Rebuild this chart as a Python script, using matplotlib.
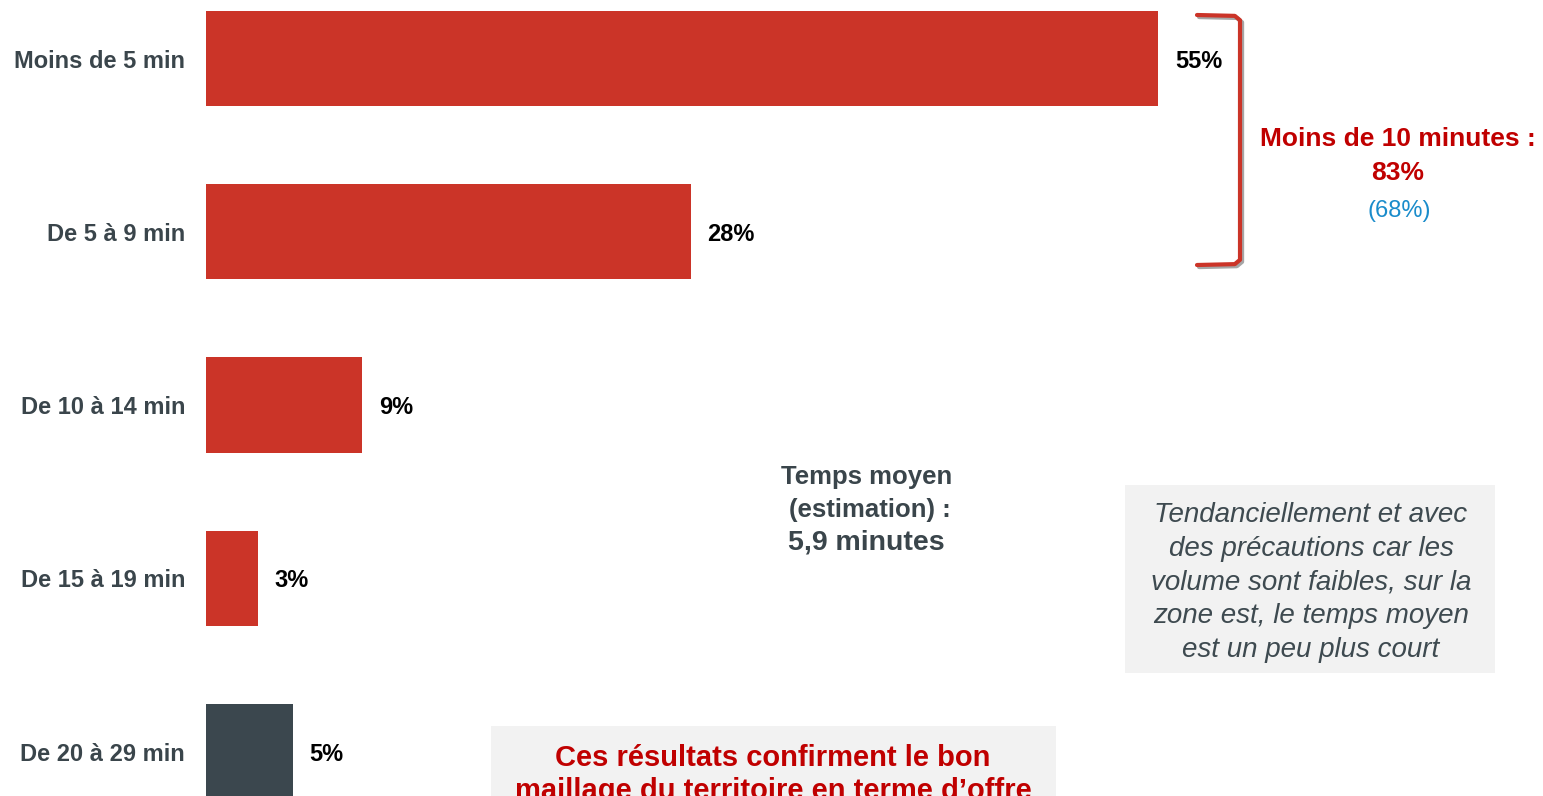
import matplotlib.pyplot as plt
import matplotlib.patheffects as pe
from matplotlib.patches import Rectangle
import numpy as np

plt.rcParams["font.family"] = ["Liberation Sans", "DejaVu Sans"]

# donnees
categories = [
    "Moins de 5 min",
    "De 5 à 9 min",
    "De 10 à 14 min",
    "De 15 à 19 min",
    "De 20 à 29 min",
]
valeurs_pct = [55, 28, 9, 3, 5]
couleurs = ["#CB3428", "#CB3428", "#CB3428", "#CB3428", "#3B474E"]

W, H = 1543, 796
GRIS_TEXTE = "#3A454B"
ROUGE_TEXTE = "#C00000"

fig = plt.figure(figsize=(W / 100, H / 100), dpi=100)

# axes: bars start at x=206 px, ~17.3 px per percent, 173.3 px per category
px_per_pct = (1158 - 206) / 55
px_per_cat = 173.3
y0_px = 58.5
ax = fig.add_axes([206 / W, 0, (W - 206) / W, 1])
ax.patch.set_visible(False)
ax.set_xlim(0, (W - 206) / px_per_pct)
ax.set_ylim((H - y0_px) / px_per_cat, -y0_px / px_per_cat)

y = np.arange(len(categories))
bars = ax.barh(y, valeurs_pct, height=0.55, color=couleurs)

for rect, v in zip(bars, valeurs_pct):
    ax.annotate(
        f"{v}%",
        (rect.get_width(), rect.get_y() + rect.get_height() / 2),
        xytext=(12.2, 0),
        textcoords="offset points",
        ha="left",
        va="center_baseline",
        fontsize=17,
        fontweight="bold",
        color="black",
    )

ax.set_yticks(y)
ax.set_yticklabels(categories, fontsize=17, fontweight="bold", color=GRIS_TEXTE)
ax.tick_params(axis="y", length=0, pad=15)
ax.set_xticks([])
for s in ax.spines.values():
    s.set_visible(False)

# accolade "moins de 10 minutes"
bx0 = (1197 - 206) / px_per_pct
bx1 = (1240 - 206) / px_per_pct
by0 = (15 - y0_px) / px_per_cat
by1 = (265 - y0_px) / px_per_cat
ax.plot(
    [bx0, bx1 - 0.3, bx1, bx1, bx1 - 0.3, bx0],
    [by0, by0 + 0.005, by0 + 0.03, by1 - 0.03, by1 - 0.005, by1],
    color="#CB3428",
    linewidth=3,
    solid_joinstyle="round",
    solid_capstyle="round",
    clip_on=False,
    path_effects=[pe.SimpleLineShadow(offset=(1.5, -1.5), alpha=0.35), pe.Normal()],
)


def fx(px):
    return px / W


def fy(px):
    return 1 - px / H


fig.text(fx(1398), fy(137), "Moins de 10 minutes :", ha="center", va="center_baseline",
         fontsize=19, fontweight="bold", color=ROUGE_TEXTE)
fig.text(fx(1398), fy(170), "83%", ha="center", va="center_baseline",
         fontsize=19, fontweight="bold", color=ROUGE_TEXTE)
fig.text(fx(1399), fy(208), "(68%)", ha="center", va="center_baseline",
         fontsize=17, color="#1A8CCB")

# temps moyen
fig.text(fx(867), fy(475), "Temps moyen", ha="center", va="center_baseline",
         fontsize=18.5, fontweight="bold", color=GRIS_TEXTE)
fig.text(fx(870), fy(507), "(estimation) :", ha="center", va="center_baseline",
         fontsize=18.5, fontweight="bold", color=GRIS_TEXTE)
fig.text(fx(866), fy(540), "5,9 minutes", ha="center", va="center_baseline",
         fontsize=20.5, fontweight="bold", color=GRIS_TEXTE)

# encadre gris a droite
fig.add_artist(Rectangle((fx(1125), fy(673)), (1495 - 1125) / W, (673 - 485) / H,
                         transform=fig.transFigure, facecolor="#F2F2F2",
                         edgecolor="none", zorder=0))
lignes_droite = [
    "Tendanciellement et avec",
    "des précautions car les",
    "volume sont faibles, sur la",
    "zone est, le temps moyen",
    "est un peu plus court",
]
for i, t in enumerate(lignes_droite):
    fig.text(fx(1311), fy(512 + 33.8 * i), t, ha="center", va="center_baseline",
             fontsize=20, fontstyle="italic", color="#3E4A50")

# encadre gris en bas
fig.add_artist(Rectangle((fx(491), 0), (1056 - 491) / W, (H - 726) / H,
                         transform=fig.transFigure, facecolor="#F2F2F2",
                         edgecolor="none", zorder=0))
lignes_bas = [
    "Ces résultats confirment le bon",
    "maillage du territoire en terme d\u2019offre",
]
for i, t in enumerate(lignes_bas):
    fig.text(fx(773), fy(755 + 33 * i), t, ha="center", va="center_baseline",
             fontsize=21, fontweight="bold", color=ROUGE_TEXTE)

plt.savefig("out.png", dpi=100)
